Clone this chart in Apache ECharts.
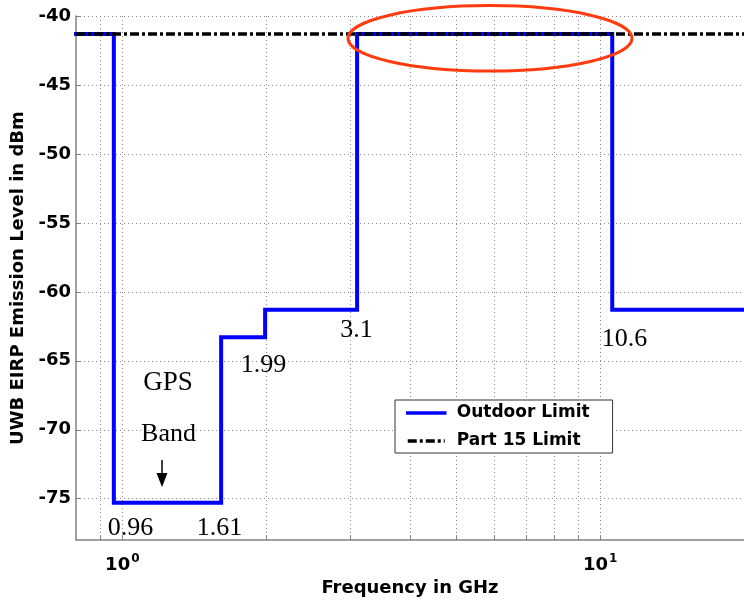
<!DOCTYPE html>
<html>
<head>
<meta charset="utf-8">
<script src="https://cdn.jsdelivr.net/npm/echarts@6/dist/echarts.min.js"></script>
<style>
  html, body { margin: 0; padding: 0; background: #fff; }
  #chart { width: 744px; height: 602px; }
</style>
</head>
<body>
<div id="chart"></div>
<script>
// step corners of the outdoor mask (GHz, dBm), drawn with step: 'end'
const outdoorFreq = [0.8, 0.96, 1.61, 1.99, 3.1, 10.6, 20];
const outdoorLevel = [-41.3, -75.3, -63.3, -61.3, -41.3, -61.3, -61.3];
const part15Freq = [0.8, 20];
const part15Level = [-41.3, -41.3];

const xGridTicks = [0.9, 1, 2, 3, 4, 5, 6, 7, 8, 9, 10];
const xLabelTicks = [1, 10];
const yTicks = [-75, -70, -65, -60, -55, -50, -45, -40];

const chart = echarts.init(document.getElementById("chart"));

const boldFont = "DejaVu Sans";
const serifFont = "Liberation Serif";
const gridStyle = { color: "#8a8a8a", width: 1, type: [1, 3] };
const axisGray = "#808080";

function pairs(xs, ys) {
  return xs.map((x, i) => [x, ys[i]]);
}

const option = {
  backgroundColor: "#fff",
  animation: false,
  grid: { left: 76, top: 16, right: -8, bottom: 59, containLabel: false },
  legend: {
    orient: "vertical",
    left: 395,
    top: 400,
    itemWidth: 37,
    itemHeight: 14,
    itemGap: 8,
    padding: [3, 23, 2, 11],
    backgroundColor: "#fff",
    borderColor: "#333",
    borderWidth: 1,
    borderRadius: 0,
    itemStyle: { opacity: 0 },
    lineStyle: { width: 3.5 },
    textStyle: {
      fontFamily: boldFont, fontWeight: "bold", fontSize: 17, color: "#000",
      lineHeight: 20, padding: [0, 0, 0, 7],
    },
    data: ["Outdoor Limit", "Part 15 Limit"],
  },
  xAxis: {
    type: "log",
    logBase: 10,
    min: 0.8,
    max: 20,
    name: "Frequency in GHz",
    nameLocation: "middle",
    nameGap: 31,
    nameTextStyle: { fontFamily: boldFont, fontWeight: "bold", fontSize: 18, color: "#000" },
    axisLine: { show: true, lineStyle: { color: axisGray, width: 1.5 } },
    axisTick: { show: true, inside: true, length: 5, customValues: xGridTicks, lineStyle: { color: axisGray } },
    splitLine: { show: true, lineStyle: gridStyle },
    minorTick: { show: false },
    axisLabel: {
      customValues: xLabelTicks,
      margin: 13,
      formatter: (v) => "{b|10}{s|" + Math.round(Math.log10(v)) + "}",
      rich: {
        b: { fontFamily: boldFont, fontWeight: "bold", fontSize: 18, color: "#000" },
        s: { fontFamily: boldFont, fontWeight: "bold", fontSize: 12, color: "#000", padding: [0, 0, 12, 1] },
      },
    },
  },
  yAxis: {
    type: "value",
    min: -78,
    max: -40,
    name: "UWB EIRP Emission Level in dBm",
    nameLocation: "middle",
    nameGap: 41,
    nameTextStyle: { fontFamily: boldFont, fontWeight: "bold", fontSize: 18, color: "#000" },
    axisLine: { show: true, lineStyle: { color: axisGray, width: 1.5 } },
    axisTick: { show: true, inside: true, length: 5, customValues: yTicks, lineStyle: { color: axisGray } },
    splitLine: { show: true, lineStyle: gridStyle },
    axisLabel: {
      customValues: yTicks,
      margin: 5,
      fontFamily: boldFont, fontWeight: "bold", fontSize: 18, color: "#000",
    },
  },
  series: [
    {
      name: "Outdoor Limit",
      type: "line",
      step: "end",
      symbol: "none",
      lineStyle: { color: "#0000ff", width: 4, cap: "square", join: "miter" },
      itemStyle: { color: "#0000ff" },
      data: pairs(outdoorFreq, outdoorLevel),
      z: 3,
    },
    {
      name: "Part 15 Limit",
      type: "line",
      symbol: "none",
      lineStyle: { color: "#000", width: 3.5, type: [9, 3, 3, 3] },
      itemStyle: { color: "#000" },
      data: pairs(part15Freq, part15Level),
      z: 4,
    },
  ],
};

chart.setOption(option);

// annotations (text, arrow, ellipse)
const serif = (text, x, y, size) => ({
  type: "text",
  x, y,
  style: { text, fontFamily: serifFont, fontSize: size, fill: "#000", align: "center", verticalAlign: "middle" },
  z: 10,
});

chart.setOption({
  graphic: [
    serif("GPS", 168, 383, 27),
    serif("Band", 168.5, 434, 26),
    serif("0.96", 130.5, 528, 26),
    serif("1.61", 219.5, 528, 26),
    serif("1.99", 263.5, 365, 26),
    serif("3.1", 356.5, 330, 26),
    serif("10.6", 624.5, 339, 26),
    {
      type: "line",
      shape: { x1: 162, y1: 460, x2: 162, y2: 474 },
      style: { stroke: "#000", lineWidth: 1.5 },
      z: 10,
    },
    {
      type: "polygon",
      shape: { points: [[156.5, 473], [167.5, 473], [162, 487]] },
      style: { fill: "#000" },
      z: 10,
    },
    {
      type: "ellipse",
      shape: { cx: 490, cy: 38.3, rx: 142, ry: 32.7 },
      style: { fill: null, stroke: "#ff3b0f", lineWidth: 3 },
      z: 10,
    },
  ],
});
</script>
</body>
</html>
